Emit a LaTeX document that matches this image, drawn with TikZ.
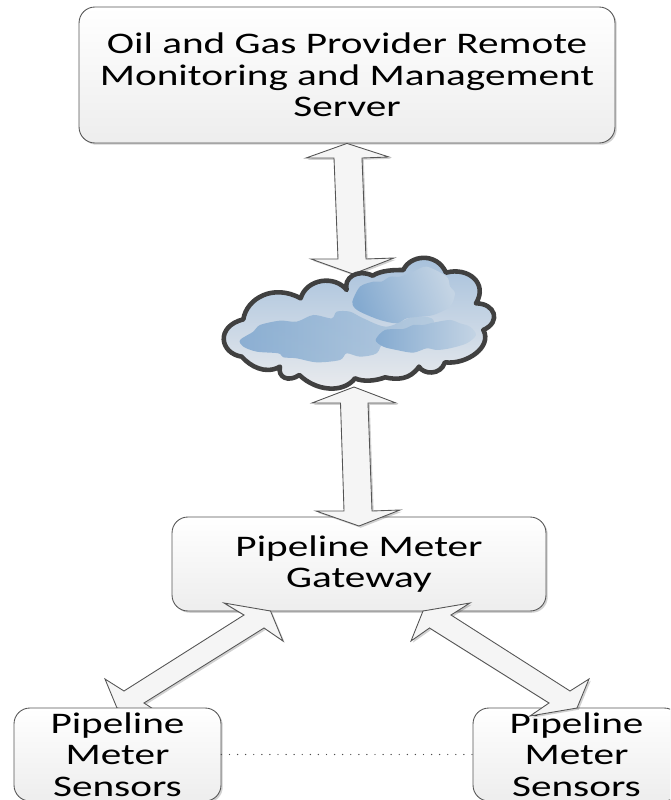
\documentclass[tikz,border=0pt]{standalone}
\usepackage{fontspec}
\usepackage{graphicx}
\setmainfont{Carlito}
\usetikzlibrary{shadows}
\definecolor{edgegray}{HTML}{555555}
\definecolor{cloudline}{HTML}{404040}
\definecolor{cloudtopc}{HTML}{A4BFDB}
\definecolor{cloudmidc}{HTML}{B4CADF}
\definecolor{cloudbotc}{HTML}{EBECEE}
\definecolor{bluedark}{HTML}{84AAD0}
\definecolor{bluepale}{HTML}{C4D4E4}
\tikzset{
  softshadow/.style={drop shadow={shadow xshift=1pt,shadow yshift=-1pt,fill=black,opacity=0.18}},
  roundbox/.style={draw=edgegray,line width=0.5pt,rounded corners=9pt,top color=white,bottom color=black!7,softshadow,font=\fontsize{17}{18}\selectfont,align=center,inner sep=0pt},
  blockarrow/.style={draw=edgegray,line width=0.5pt,fill=black!4,softshadow},
  dotlink/.style={draw=black!70,line width=0.8pt,line cap=round,dash pattern=on 0pt off 4.6pt}
}
\newcommand{\wide}[1]{\scalebox{1.38}[1]{#1}}
\begin{document}
\begin{tikzpicture}[x=0.02cm,y=-0.02cm]
\useasboundingbox (0,0) rectangle (670,800);
\clip (0,0) rectangle (670,800);
\node[roundbox,minimum width=10.72cm,minimum height=2.72cm] (server) at (347,75) {\wide{Oil and Gas Provider Remote}\\\wide{Monitoring and Management}\\\wide{Server}};
\node[roundbox,minimum width=7.48cm,minimum height=1.88cm] (gateway) at (359,564) {\wide{Pipeline Meter}\\\wide{Gateway}};
\coordinate (cloudtop) at (353,274);
\coordinate (cloudbottom) at (354,387);
\coordinate (gatewaytop) at (359,526);
\coordinate (gatewayleft) at (270.5,611);
\coordinate (gatewayright) at (423,611);
\coordinate (sensorlefttip) at (117,708);
\coordinate (sensorrighttip) at (577,708);
\draw[blockarrow] (server.south) -- (389,157) -- (362,158) -- (366,259) -- (394,258) -- (cloudtop) -- (311,259) -- (338,259) -- (334,158) -- (306,158) -- cycle;
\begin{scope}[shift={(200,130)},x=0.00667cm,y=-0.00667cm]
\draw[draw=cloudline,line width=2.6pt,top color=cloudtopc,middle color=cloudmidc,bottom color=cloudbotc,softshadow,line join=round]
  (440,480) .. controls (430,445) and (470,415) .. (518,437)
  .. controls (545,420) and (585,420) .. (610,420)
  .. controls (630,375) and (710,365) .. (738,428)
  .. controls (805,410) and (865,460) .. (828,520)
  .. controls (885,520) and (905,575) .. (850,600)
  .. controls (878,650) and (800,705) .. (735,697)
  .. controls (720,738) and (670,733) .. (657,710)
  .. controls (630,750) and (590,750) .. (555,742)
  .. controls (530,752) and (490,757) .. (465,745)
  .. controls (430,790) and (350,785) .. (298,735)
  .. controls (265,758) and (232,742) .. (240,710)
  .. controls (195,735) and (150,708) .. (125,680)
  .. controls (60,670) and (45,590) .. (130,568)
  .. controls (140,505) and (220,460) .. (302,505)
  .. controls (320,445) and (405,435) .. (440,480) -- cycle;
\shade[left color=bluedark,right color=cloudmidc,opacity=0.9] plot[smooth cycle] coordinates {(120,630) (160,605) (180,585) (240,572) (290,575) (340,555) (395,565) (410,545) (450,545) (490,565) (560,590) (640,560) (695,565) (690,590) (560,630) (530,670) (480,680) (440,670) (420,690) (350,697) (290,685) (250,682) (235,670) (170,665) (130,650)};
\shade[left color=bluedark,right color=bluepale,shading angle=110] plot[smooth cycle] coordinates {(457,515) (480,470) (520,455) (545,455) (570,440) (600,440) (640,425) (680,410) (740,440) (750,470) (765,490) (750,530) (700,555) (660,560) (620,565) (590,580) (540,570) (490,550) (465,535)};
\shade[left color=bluedark,right color=bluepale] plot[smooth cycle] coordinates {(527,630) (555,600) (610,597) (640,585) (670,585) (700,578) (750,570) (780,580) (810,590) (828,615) (800,640) (750,655) (710,660) (680,655) (640,668) (590,660) (550,650)};
\end{scope}
\draw[blockarrow] (cloudbottom) -- (396,403) -- (368,403) -- (372,511) -- (400,510) -- (gatewaytop) -- (316,511) -- (344,511) -- (340.5,403) -- (312,403) -- cycle;
\draw[blockarrow] (gatewayleft) -- (283,641) -- (264,628) -- (144,703) -- (164,716) -- (sensorlefttip) -- (105,679) -- (124,691) -- (244,615) -- (224,603) -- cycle;
\node[roundbox,minimum width=4.14cm,minimum height=1.86cm] (sensorleft) at (117.5,754.5) {\wide{Pipeline}\\\wide{Meter}\\\wide{Sensors}};
\node[roundbox,minimum width=4.14cm,minimum height=1.86cm] (sensorright) at (576.5,754.5) {\wide{Pipeline}\\\wide{Meter}\\\wide{Sensors}};
\draw[blockarrow] (gatewayright) -- (470,603) -- (451,615) -- (570,691) -- (589,679) -- (sensorrighttip) -- (530,716) -- (549,703) -- (429.5,628) -- (411,641) -- cycle;
\draw[dotlink] (sensorleft) -- (sensorright);
\end{tikzpicture}
\end{document}
